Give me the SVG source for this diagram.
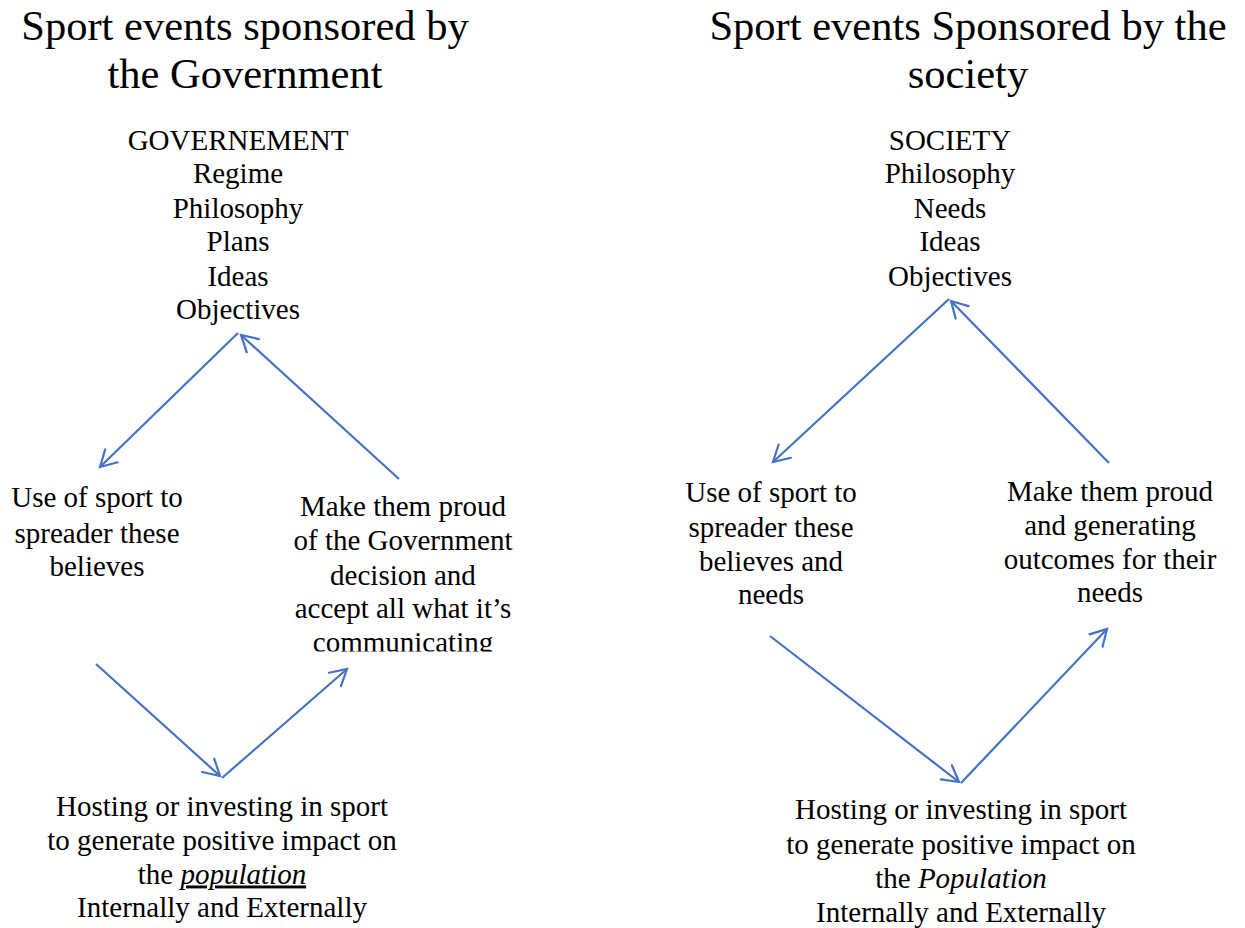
<svg xmlns="http://www.w3.org/2000/svg" width="1245" height="928" viewBox="0 0 1245 928">
<style>
text{font-family:"Liberation Serif","Times New Roman",serif;fill:#000;text-anchor:middle}
.t{font-size:42.5px}
.b{font-size:29px}
.c{stroke:#4472C4;stroke-width:2.2;fill:none;marker-end:url(#ah)}
</style>
<defs>
<marker id="ah" markerUnits="userSpaceOnUse" markerWidth="30" markerHeight="30" refX="17" refY="10" orient="auto" viewBox="0 0 30 20">
<path d="M1,1 L17,10 L1,19" fill="none" stroke="#4472C4" stroke-width="2.2" stroke-linecap="round"/>
</marker>
<clipPath id="clipL"><rect x="280" y="480" width="260" height="170"/></clipPath>
</defs>
<rect width="1245" height="928" fill="#fff"/>
<g id="title-left"><text class="t" x="245" y="40">Sport events sponsored by</text><text class="t" x="245" y="88">the Government</text></g>
<g id="title-right"><text class="t" x="968" y="40">Sport events Sponsored by the</text><text class="t" x="968" y="88">society</text></g>
<g transform="translate(0,1.5)">
<g id="gov"><text class="b" x="238" y="148">GOVERNEMENT</text><text class="b" x="238" y="181">Regime</text><text class="b" x="238" y="216">Philosophy</text><text class="b" x="238" y="249">Plans</text><text class="b" x="238" y="284">Ideas</text><text class="b" x="238" y="317">Objectives</text></g>
<g id="use-left"><text class="b" x="97" y="505">Use of sport to</text><text class="b" x="97" y="541">spreader these</text><text class="b" x="97" y="574">believes</text></g>
<g id="make-left" clip-path="url(#clipL)"><text class="b" x="403" y="514">Make them proud</text><text class="b" x="403" y="548">of the Government</text><text class="b" x="403" y="583">decision and</text><text class="b" x="403" y="616">accept all what it’s</text><text class="b" x="403" y="650">communicating</text></g>
<g id="host-left"><text class="b" x="222" y="814">Hosting or investing in sport</text><text class="b" x="222" y="848">to generate positive impact on</text><text class="b" x="222" y="882">the <tspan font-style="italic" text-decoration="underline">population</tspan></text><text class="b" x="222" y="915">Internally and Externally</text></g>
<g id="soc"><text class="b" x="950" y="148">SOCIETY</text><text class="b" x="950" y="181">Philosophy</text><text class="b" x="950" y="216">Needs</text><text class="b" x="950" y="249">Ideas</text><text class="b" x="950" y="284">Objectives</text></g>
<g id="use-right"><text class="b" x="771" y="500">Use of sport to</text><text class="b" x="771" y="535">spreader these</text><text class="b" x="771" y="569">believes and</text><text class="b" x="771" y="602">needs</text></g>
<g id="make-right"><text class="b" x="1110" y="499">Make them proud</text><text class="b" x="1110" y="533">and generating</text><text class="b" x="1110" y="567">outcomes for their</text><text class="b" x="1110" y="600">needs</text></g>
<g id="host-right"><text class="b" x="961" y="817">Hosting or investing in sport</text><text class="b" x="961" y="852">to generate positive impact on</text><text class="b" x="961" y="886">the <tspan font-style="italic">Population</tspan></text><text class="b" x="961" y="920">Internally and Externally</text></g>
</g>
<g id="connectors">
<line class="c" x1="238" y1="333" x2="100" y2="467"/>
<line class="c" x1="399" y1="479" x2="241" y2="335"/>
<line class="c" x1="96" y1="664" x2="220" y2="776"/>
<line class="c" x1="222" y1="778" x2="347" y2="669"/>
<line class="c" x1="949" y1="299" x2="773" y2="462"/>
<line class="c" x1="1109" y1="463" x2="951" y2="301"/>
<line class="c" x1="770" y1="636" x2="959" y2="782"/>
<line class="c" x1="961" y1="783" x2="1107" y2="629"/>
</g>
</svg>
